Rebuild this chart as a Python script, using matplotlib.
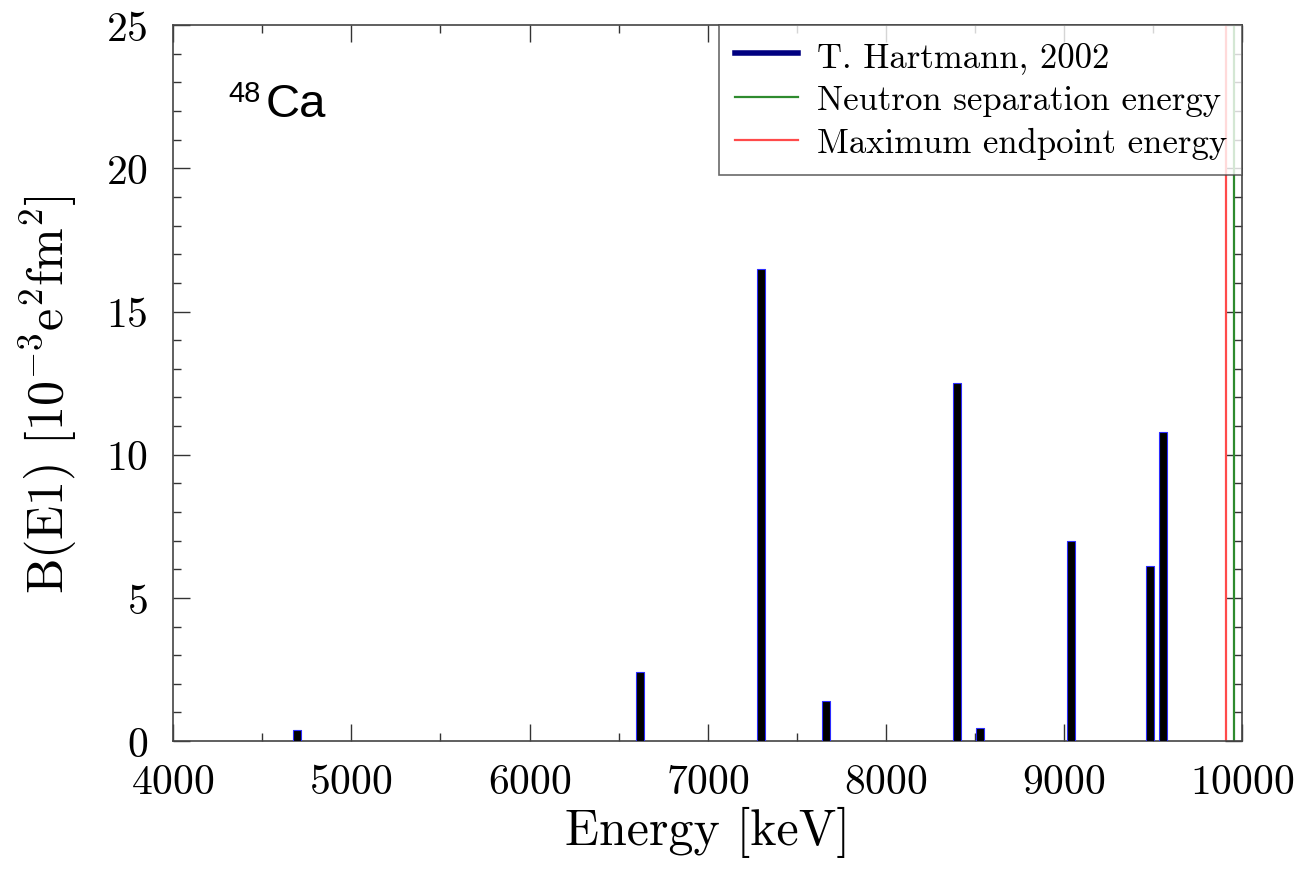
import matplotlib
matplotlib.use("Agg")
import matplotlib.pyplot as plt
from matplotlib.ticker import MultipleLocator
from matplotlib.lines import Line2D

plt.rcParams.update({"font.family": "cmr10", "mathtext.fontset": "cm",
                     "axes.formatter.use_mathtext": True})

# B(E1) strengths, T. Hartmann 2002
energy = [4695, 6620, 7300, 7665, 8400, 8530, 9040, 9480, 9555]
bstrength = [0.38, 2.4, 16.5, 1.4, 12.5, 0.45, 7.0, 6.1, 10.8]
sn_energy = 9950      # neutron separation energy
endpoint = 9905       # maximum endpoint energy

fig = plt.figure(figsize=(13.01, 8.70), dpi=100)
ax = fig.add_axes([0.133, 0.147, 0.822, 0.823])

ax.bar(energy, bstrength, width=45, color="black", edgecolor="#2b2bff", linewidth=0.8, zorder=3)
ax.axvline(endpoint, color="#ff4a4a", lw=1.6, zorder=2)
ax.axvline(sn_energy, color="#2e8b2e", lw=1.6, zorder=2)

ax.set_xlim(4000, 10000)
ax.set_ylim(0, 25)
ax.xaxis.set_major_locator(MultipleLocator(1000))
ax.xaxis.set_minor_locator(MultipleLocator(500))
ax.yaxis.set_major_locator(MultipleLocator(5))
ax.yaxis.set_minor_locator(MultipleLocator(1))
ax.tick_params(which="both", direction="in", top=True, right=True, colors="#333333", labelcolor="black")
ax.tick_params(which="major", length=12, width=1, labelsize=30)
ax.tick_params(which="minor", length=6, width=1)
ax.tick_params(axis="x", pad=16)
ax.tick_params(axis="y", pad=18)
for s in ax.spines.values():
    s.set_color("#444444")
    s.set_linewidth(1.2)

ax.set_xlabel("Energy [keV]", fontsize=36)
ax.set_ylabel(r"B(E1) [10$^{-3}$e$^{2}$fm$^{2}$]", fontsize=36)
ax.xaxis.set_label_coords(0.5, -0.09)
ax.yaxis.set_label_coords(-0.088, 0.485)

# nucleus label
ax.text(0.052, 0.894, "48", transform=ax.transAxes, fontsize=21,
        family="Liberation Sans", va="baseline", ha="left")
ax.text(0.087, 0.873, "Ca", transform=ax.transAxes, fontsize=34,
        family="Liberation Sans", va="baseline", ha="left")

handles = [Line2D([], [], color="#000080", lw=4),
           Line2D([], [], color="#2e8b2e", lw=1.6),
           Line2D([], [], color="#ff4a4a", lw=1.6)]
labels = ["T. Hartmann, 2002", "Neutron separation energy", "Maximum endpoint energy"]
leg = ax.legend(handles, labels, loc="upper right", fontsize=25, frameon=True, fancybox=False,
                borderaxespad=0, handlelength=1.8, handletextpad=0.55, labelspacing=0.33,
                borderpad=0.45)
leg.get_frame().set_edgecolor("#444444")
leg.get_frame().set_linewidth(1.2)
leg.set_zorder(5)

fig.savefig("out.png", dpi=100)
